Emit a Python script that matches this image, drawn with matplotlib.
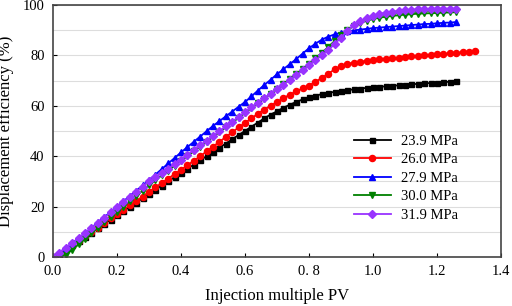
import numpy as np
import matplotlib
matplotlib.use("Agg")
import matplotlib.pyplot as plt

plt.rcParams['font.family'] = ['Liberation Serif', 'DejaVu Serif']

# Injection multiple PV sampled every 0.02
pv = np.round(np.arange(0, 1.261, 0.02), 2)
pv_red = np.round(np.arange(0, 1.321, 0.02), 2)

# Displacement efficiency (%)
eff_239 = [0, 1.4, 3.0, 4.7, 6.4, 8.0, 9.7, 11.4, 13.1, 14.8, 16.5, 18.2, 19.9, 21.6, 23.3, 25.0,
           26.7, 28.3, 30.0, 31.7, 33.4, 35.0, 36.7, 38.4, 40.0, 41.7, 43.4, 45.0, 46.7, 48.4, 50.0,
           51.7, 53.3, 55.0, 56.5, 57.8, 59.2, 60.4, 61.5, 62.5, 63.3, 64.0, 64.6, 65.1, 65.5, 65.9,
           66.2, 66.5, 66.8, 67.1, 67.3, 67.5, 67.7, 67.9, 68.1, 68.3, 68.5, 68.7, 68.9, 69.0, 69.2,
           69.4, 69.5, 69.7]
eff_260 = [0, 1.2, 2.8, 4.5, 6.4, 8.2, 9.9, 11.7, 13.5, 15.3, 17.0, 18.7, 20.5, 22.2, 24.0, 25.9,
           27.6, 29.4, 31.1, 32.9, 34.6, 36.4, 38.2, 40.0, 41.9, 43.8, 45.7, 47.6, 49.5, 51.4, 53.2,
           55.0, 56.8, 58.5, 60.0, 61.5, 63.0, 64.4, 65.7, 66.9, 68.0, 69.5, 71.0, 72.7, 74.4, 75.8,
           76.6, 77.1, 77.5, 77.8, 78.1, 78.4, 78.6, 78.9, 79.1, 79.4, 79.6, 79.8, 80.0, 80.2, 80.4,
           80.6, 80.8, 81.0, 81.2, 81.4, 81.6]
eff_279 = [0, 1.8, 3.7, 5.6, 7.5, 9.5, 11.6, 13.7, 15.8, 17.9, 20.0, 22.1, 24.2, 26.3, 28.4, 30.5,
           32.7, 34.9, 37.1, 39.3, 41.5, 43.6, 45.7, 47.8, 49.9, 52.0, 53.9, 55.8, 57.7, 59.6, 61.5,
           63.7, 66.0, 68.2, 70.3, 72.5, 74.5, 76.5, 78.5, 80.7, 82.8, 84.6, 86.2, 87.4, 88.3, 89.0,
           89.5, 89.9, 90.2, 90.5, 90.8, 91.0, 91.2, 91.4, 91.6, 91.8, 92.0, 92.2, 92.4, 92.5, 92.7,
           92.9, 93.0, 93.2]
eff_300 = [0, 0.3, 1.0, 2.8, 5.0, 7.2, 9.4, 11.6, 13.7, 15.8, 17.9, 20.0, 22.1, 24.2, 26.3, 28.4,
           30.4, 32.4, 34.3, 36.2, 38.1, 40.0, 41.9, 43.8, 45.7, 47.6, 49.5, 51.4, 53.3, 55.2, 57.1,
           59.0, 60.9, 62.8, 64.7, 66.6, 68.5, 70.5, 72.5, 74.6, 76.7, 78.8, 81.0, 83.3, 85.7, 88.0,
           90.0, 91.6, 92.8, 93.7, 94.4, 94.9, 95.3, 95.6, 95.9, 96.1, 96.3, 96.5, 96.6, 96.7, 96.8,
           96.9, 97.0, 97.1]
eff_319 = [0, 1.8, 3.6, 5.5, 7.5, 9.5, 11.5, 13.5, 15.6, 17.7, 19.8, 21.8, 23.8, 25.8, 27.9, 30.0,
           31.7, 33.4, 35.1, 36.8, 38.6, 40.5, 42.4, 44.3, 46.2, 48.0, 49.9, 51.8, 53.7, 55.6, 57.5,
           59.4, 61.2, 63.0, 64.8, 66.6, 68.4, 70.2, 72.0, 74.0, 76.0, 78.0, 80.0, 82.0, 84.5, 87.0,
           89.8, 92.0, 93.6, 94.8, 95.7, 96.4, 96.9, 97.3, 97.6, 97.9, 98.1, 98.2, 98.3, 98.4, 98.5,
           98.5, 98.5, 98.5]

x_ticks = [0.0, 0.2, 0.4, 0.6, 0.8, 1.0, 1.2, 1.4]
x_tick_labels = ['0.0', '0.2', '0.4', '0.6', '0. 8', '1.0', '1.2', '1.4']

fig = plt.figure(figsize=(5.12, 3.06), dpi=100)
ax = fig.add_axes([0.1035, 0.160, 0.875, 0.824])

ax.plot(pv, eff_239, color='black', marker='s', markersize=3.6, lw=1.3, label='23.9 MPa')
ax.plot(pv_red, eff_260, color='#ff0000', marker='o', markersize=4.4, lw=1.3, label='26.0 MPa')
ax.plot(pv, eff_279, color='#0000ff', marker='^', markersize=4.8, lw=1.3, label='27.9 MPa')
ax.plot(pv, eff_300, color='#008000', marker='v', markersize=4.8, lw=1.3, label='30.0 MPa')
ax.plot(pv, eff_319, color='#9933ff', marker='D', markersize=3.8, lw=1.3, label='31.9 MPa')

ax.set_xlim(0, 1.4)
ax.set_ylim(0, 100)
ax.set_xticks(x_ticks)
ax.set_xticklabels(x_tick_labels)
ax.set_yticks([0, 20, 40, 60, 80, 100])
ax.set_yticks(np.arange(0, 101, 10), minor=True)
ax.grid(True, axis='y', which='both', color='#dddddd', lw=0.8)
ax.set_axisbelow(True)
ax.tick_params(axis='both', which='major', direction='in', labelsize=10.5, length=3, pad=6)
ax.tick_params(axis='y', which='minor', length=0)
for s in ax.spines.values():
    s.set_color('#444444')
    s.set_linewidth(1.2)

ax.set_xlabel('Injection multiple PV', fontsize=12, labelpad=7)
ax.set_ylabel('Displacement efficiency (%)', fontsize=12, labelpad=6)

ax.legend(loc='upper left', bbox_to_anchor=(0.672, 0.485), frameon=False, fontsize=10.5,
          handlelength=2.5, labelspacing=0.36, handletextpad=0.7,
          borderpad=0, borderaxespad=0)

fig.savefig('out.png', dpi=100)
